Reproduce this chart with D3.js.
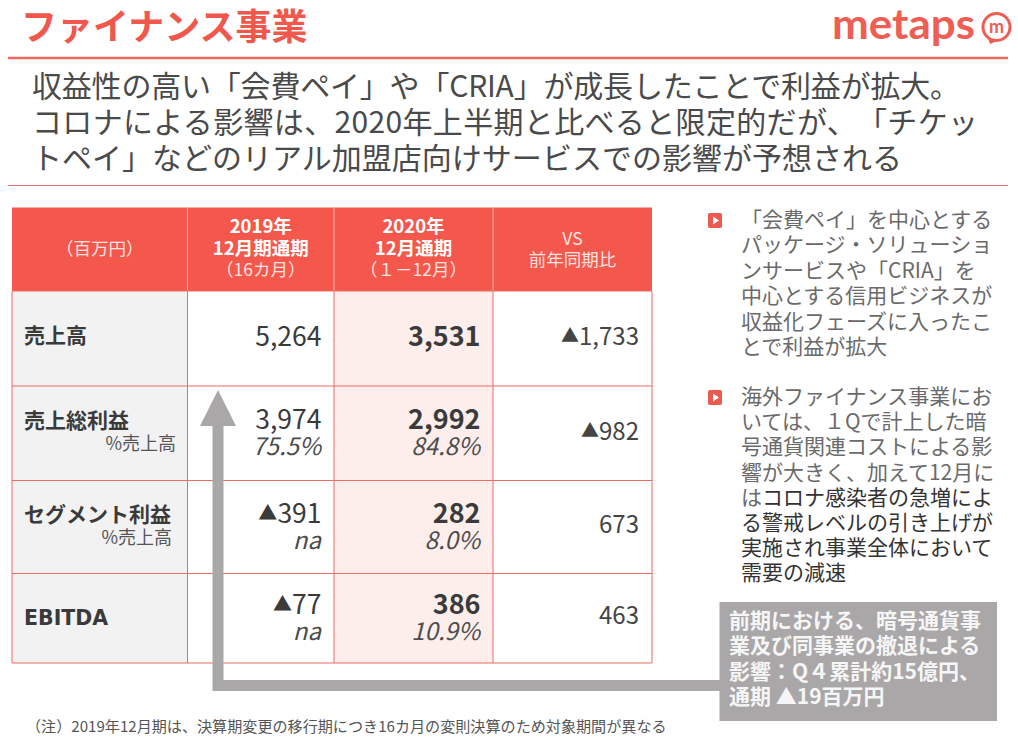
<!DOCTYPE html>
<html lang="ja">
<head>
<meta charset="utf-8">
<script src="https://cdn.jsdelivr.net/npm/d3@7"></script>
<style>
  html, body { margin: 0; padding: 0; background: #fff; }
  svg { display: block; }
  text { font-family: "Noto Sans CJK JP", "Noto Sans", sans-serif; text-spacing-trim: space-all; font-feature-settings: "chws" 0, "palt" 0; }
</style>
</head>
<body>
<svg id="chart" width="1018" height="742"></svg>
<script>
// table data
const headerLines = [
  ["（百万円）"],
  ["2019年", "12月期通期", "（16カ月）"],
  ["2020年", "12月通期", "（１－12月）"],
  ["VS", "前年同期比"]
];
const rowLabels = ["売上高", "売上総利益", "セグメント利益", "EBITDA"];
const rowSubLabels = [null, "%売上高", "%売上高", null];
const values2019 = ["5,264", "3,974", "▲391", "▲77"];
const ratios2019 = [null, "75.5%", "na", "na"];
const values2020 = ["3,531", "2,992", "282", "386"];
const ratios2020 = [null, "84.8%", "8.0%", "10.9%"];
const valuesVs = ["▲1,733", "▲982", "673", "463"];

// text blocks
const pageTitle = "ファイナンス事業";
const leadLines = [
  "収益性の高い「会費ペイ」や「CRIA」が成長したことで利益が拡大。",
  "コロナによる影響は、2020年上半期と比べると限定的だが、「チケッ",
  "トペイ」などのリアル加盟店向けサービスでの影響が予想される"
];
const bullet1Lines = [
  "「会費ペイ」を中心とする",
  "パッケージ・ソリューショ",
  "ンサービスや「CRIA」を",
  "中心とする信用ビジネスが",
  "収益化フェーズに入ったこ",
  "とで利益が拡大"
];
const bullet2Lines = [
  "海外ファイナンス事業にお",
  "いては、１Qで計上した暗",
  "号通貨関連コストによる影",
  "響が大きく、加えて12月に",
  "はコロナ感染者の急増によ",
  "る警戒レベルの引き上げが",
  "実施され事業全体において",
  "需要の減速"
];
const calloutLines = [
  "前期における、暗号通貨事",
  "業及び同事業の撤退による",
  "影響：Q４累計約15億円、",
  "通期 ▲19百万円"
];
const footNote = "（注）2019年12月期は、決算期変更の移行期につき16カ月の変則決算のため対象期間が異なる";

const RED = "#f4584c";
const LINE = "#ea6d64";
const GREY = "#a9a7a7";
const INK = "#3a3a3a";

const svg = d3.select("#chart");

// table grid: index -> edge, column and row sizes are uneven so ordinal scales are used
const colEdge = d3.scaleOrdinal().domain([0, 1, 2, 3, 4]).range([12, 187.5, 334, 493, 652]);
const rowEdge = d3.scaleOrdinal().domain([0, 1, 2, 3, 4, 5]).range([207.5, 291, 386, 480.5, 573.5, 663]);
const rowMid = i => (rowEdge(i + 1) + rowEdge(i + 2)) / 2;

// title and rules
svg.append("text").attr("x", 21).attr("y", 40)
  .attr("font-size", 36).attr("font-weight", 700).attr("fill", "#f0584d")
  .text(pageTitle);

svg.append("line").attr("x1", 8).attr("x2", 1008).attr("y1", 58).attr("y2", 58)
  .attr("stroke", "#ee6a60").attr("stroke-width", 2.5);
svg.append("line").attr("x1", 8).attr("x2", 1008).attr("y1", 185.5).attr("y2", 185.5)
  .attr("stroke", "#e8756c").attr("stroke-width", 1);

// logo
const logo = svg.append("g");
logo.append("text").attr("x", 832).attr("y", 39)
  .attr("font-size", 42).attr("font-weight", 700).attr("fill", "#ef5d53")
  .style("font-family", "Lato").attr("textLength", 143).attr("lengthAdjust", "spacingAndGlyphs")
  .text("metaps");
logo.append("path").attr("d", "M988,38 L990,44 L999,40").attr("fill", "#ef5d53");
logo.append("circle").attr("cx", 996.5).attr("cy", 27).attr("r", 13.5)
  .attr("fill", "#fff").attr("stroke", "#ef5d53").attr("stroke-width", 3);
logo.append("text").attr("x", 996.5).attr("y", 33).attr("text-anchor", "middle")
  .attr("font-size", 18).attr("font-weight", 700).attr("fill", "#ef5d53")
  .style("font-family", "Lato").text("m");

// lead text, stretched to the line widths of the slide (its latin digits run wider)
const leadWidth = d3.scaleOrdinal().domain([0, 1, 2]).range([928, 946, 870]);
svg.append("g").selectAll("text").data(leadLines).join("text")
  .attr("x", 32).attr("y", (d, i) => 97 + i * 36)
  .attr("font-size", 30).attr("fill", "#4a4a4a")
  .attr("textLength", (d, i) => leadWidth(i)).attr("lengthAdjust", "spacing")
  .text(d => d);

// table backgrounds
svg.append("rect")
  .attr("x", colEdge(0)).attr("y", rowEdge(0))
  .attr("width", colEdge(4) - colEdge(0)).attr("height", rowEdge(1) - rowEdge(0))
  .attr("fill", RED);

const rowIdx = d3.range(rowLabels.length);
svg.append("g").selectAll("rect").data(rowIdx).join("rect")
  .attr("x", colEdge(0)).attr("y", i => rowEdge(i + 1))
  .attr("width", colEdge(1) - colEdge(0)).attr("height", i => rowEdge(i + 2) - rowEdge(i + 1))
  .attr("fill", "#f2f2f2");
svg.append("g").selectAll("rect").data(rowIdx).join("rect")
  .attr("x", colEdge(2)).attr("y", i => rowEdge(i + 1))
  .attr("width", colEdge(3) - colEdge(2)).attr("height", i => rowEdge(i + 2) - rowEdge(i + 1))
  .attr("fill", "#fdeeec");

// grid lines
const grid = svg.append("g").attr("stroke-width", 1);
d3.range(5).forEach(c => {
  grid.append("line").attr("x1", colEdge(c)).attr("x2", colEdge(c))
    .attr("y1", rowEdge(1)).attr("y2", rowEdge(5)).attr("stroke", LINE);
  if (c > 0 && c < 4) {
    grid.append("line").attr("x1", colEdge(c)).attr("x2", colEdge(c))
      .attr("y1", rowEdge(0)).attr("y2", rowEdge(1)).attr("stroke", "#fbb8b2");
  }
});
d3.range(1, 6).forEach(r => {
  grid.append("line").attr("x1", colEdge(0)).attr("x2", colEdge(4))
    .attr("y1", rowEdge(r)).attr("y2", rowEdge(r)).attr("stroke", LINE);
});

// arrow from the callout to the 2019 column
const elbow = d3.path();
elbow.moveTo(720, 685.5);
elbow.lineTo(218, 685.5);
elbow.lineTo(218, 420);
svg.append("path").attr("d", elbow.toString())
  .attr("fill", "none").attr("stroke", GREY).attr("stroke-width", 11);
svg.append("path").attr("d", "M218,390 L236,426 L200,426 Z").attr("fill", GREY);

// header text
headerLines.forEach((lines, c) => {
  const cx = (colEdge(c) + colEdge(c + 1)) / 2;
  const top = lines.length === 3 ? 225 : lines.length === 2 ? 237 : 247;
  lines.forEach((t, i) => {
    const strong = (c === 1 || c === 2) && i < 2;
    svg.append("text").attr("x", cx).attr("y", top + i * 21.5)
      .attr("dominant-baseline", "central").attr("text-anchor", "middle")
      .attr("font-size", strong ? 18.5 : 17.5)
      .attr("font-weight", strong ? 700 : 400)
      .attr("fill", strong ? "#fff" : "#fde3e0")
      .text(t);
  });
});

// row labels
rowLabels.forEach((t, i) => {
  const sub = rowSubLabels[i];
  const latin = /^[A-Z]+$/.test(t);
  const label = svg.append("text").attr("x", 24).attr("y", rowMid(i) + (sub ? -14.5 : latin ? 0 : -5))
    .attr("dominant-baseline", "central")
    .attr("font-size", latin ? 20.5 : 21).attr("font-weight", 700).attr("fill", INK).text(t);
  if (latin) label.style("font-family", "DejaVu Sans");
  if (sub) {
    svg.append("text").attr("x", i === 2 ? 172 : 176).attr("y", rowMid(i) + 8.5)
      .attr("dominant-baseline", "central").attr("text-anchor", "end")
      .attr("font-size", 18).attr("fill", "#555").text(sub);
  }
});

// the ▲ sign is set smaller than the digits that follow it
function fillValue(sel, v, markSize) {
  if (v.startsWith("▲")) {
    sel.append("tspan").attr("font-size", markSize).attr("font-weight", 400).text("▲");
    sel.append("tspan").text(v.slice(1));
  } else {
    sel.text(v);
  }
}

// value cells
function valueCell(col, values, ratios, bold) {
  values.forEach((v, i) => {
    const hasRatio = ratios[i] !== null;
    const cell = svg.append("text").attr("x", colEdge(col + 1) - 12.5)
      .attr("y", rowMid(i) + (hasRatio ? -16 : -4))
      .attr("dominant-baseline", "central").attr("text-anchor", "end")
      .attr("font-size", bold ? 27 : 26.5).attr("font-weight", bold ? 700 : 400)
      .attr("fill", INK);
    fillValue(cell, v, 19);
    if (hasRatio) {
      svg.append("text").attr("x", colEdge(col + 1) - 13).attr("y", rowMid(i) + 11)
        .attr("dominant-baseline", "central").attr("text-anchor", "end")
        .attr("font-size", 24).attr("font-style", "italic")
        .attr("fill", "#4c4c4c").text(ratios[i]);
    }
  });
}
valueCell(1, values2019, ratios2019, false);
valueCell(2, values2020, ratios2020, true);

svg.append("g").selectAll("text").data(valuesVs).join("text")
  .attr("x", colEdge(4) - 13).attr("y", (d, i) => rowMid(i) - 4.5)
  .attr("dominant-baseline", "central").attr("text-anchor", "end")
  .attr("font-size", 24).attr("fill", "#444")
  .each(function (d) { fillValue(d3.select(this), d, 18); });

// bullets on the right
function bullet(y) {
  svg.append("rect").attr("x", 708).attr("y", y).attr("width", 14).attr("height", 15).attr("rx", 2)
    .attr("fill", "#ea5a4e");
  svg.append("path").attr("d", `M713,${y + 3.5} L719,${y + 7.5} L713,${y + 11.5} Z`).attr("fill", "#fff");
}
bullet(213);
bullet(390);

svg.append("g").selectAll("text").data(bullet1Lines).join("text")
  .attr("x", 741).attr("y", (d, i) => 227 + i * 25.4)
  .attr("font-size", 21).attr("fill", "#6a6a6a")
  .text(d => d);

// the darker part of the second bullet starts on its fifth line
const darkFromLine = 4;
const darkFromChar = 1;
const para2 = svg.append("g").selectAll("text").data(bullet2Lines).join("text")
  .attr("x", 741).attr("y", (d, i) => 404 + i * 25.2)
  .attr("font-size", 21).attr("fill", "#6a6a6a");
para2.each(function (d, i) {
  const t = d3.select(this);
  if (i < darkFromLine) { t.text(d); return; }
  const cut = i === darkFromLine ? darkFromChar : 0;
  t.append("tspan").text(d.slice(0, cut));
  t.append("tspan").attr("fill", "#333").text(d.slice(cut));
});

// callout box
svg.append("rect").attr("x", 719.5).attr("y", 602).attr("width", 277.5).attr("height", 119).attr("fill", GREY);
svg.append("g").selectAll("text").data(calloutLines).join("text")
  .attr("x", 729).attr("y", (d, i) => 627.5 + i * 25.6)
  .attr("font-size", 21).attr("font-weight", 700).attr("fill", "#f6f6f6")
  .text(d => d);

// footnote
svg.append("text").attr("x", 26).attr("y", 732)
  .attr("font-size", 15.1).attr("fill", "#555").text(footNote);
</script>
</body>
</html>
